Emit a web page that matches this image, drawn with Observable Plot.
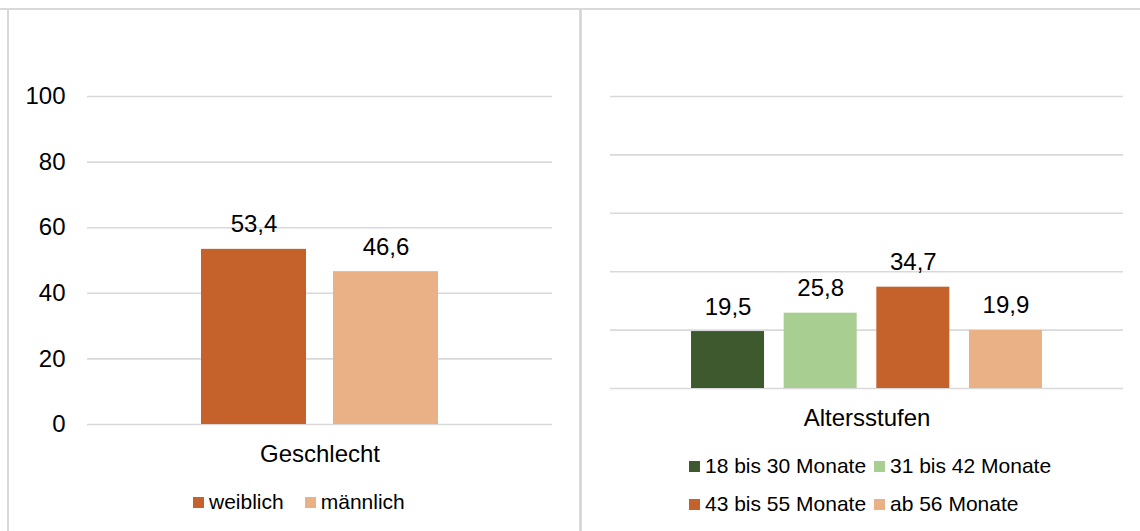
<!DOCTYPE html>
<html><head><meta charset="utf-8">
<script src="https://cdn.jsdelivr.net/npm/d3@7"></script>
<script src="https://cdn.jsdelivr.net/npm/@observablehq/plot@0.6"></script>
<style>
body{margin:0;background:#fff;font-family:"Liberation Sans",Arial,sans-serif;}
#root{position:relative;width:1140px;height:531px;overflow:hidden;background:#fff}
.border{position:absolute;background:#d9d9d9}
.panel{position:absolute;top:0}
.panel svg{overflow:visible}
.legend{position:absolute;font-size:21px;color:#000;line-height:24px}
.item{display:flex;align-items:center;white-space:nowrap}
.sw{width:11px;height:11px;margin-right:5px;flex:none}
</style></head><body><div id="root"></div>
<script>
// ---- data ----
const sexCategory = ["Geschlecht"];
const sexSeries = ["weiblich", "männlich"];
const sexValues = [53.4, 46.6];
const ageCategory = ["Altersstufen"];
const ageSeries = ["18 bis 30 Monate", "31 bis 42 Monate", "43 bis 55 Monate", "ab 56 Monate"];
const ageValues = [19.5, 25.8, 34.7, 19.9];
const yTicks = [0, 20, 40, 60, 80, 100];
const sexColors = ["#C5622B", "#EAB187"];
const ageColors = ["#3E592D", "#A9CE91", "#C5622B", "#EAB187"];

const fmt = v => v.toLocaleString("de-DE", {minimumFractionDigits: 1, maximumFractionDigits: 1});
const FONT = "'Liberation Sans', Arial, sans-serif";

function panel({category, series, values, colors, width, height, marginLeft, marginRight, marginTop, marginBottom, showY, padIn, padOut}) {
  const data = series.map((s, i) => ({cat: category[0], s, v: values[i]}));
  return Plot.plot({
    width, height, marginLeft, marginRight, marginTop, marginBottom,
    style: {fontFamily: FONT, fontSize: "24px", color: "#000", background: "transparent", overflow: "visible"},
    fx: {domain: category, padding: 0, label: null},
    x: {domain: series, paddingInner: padIn, paddingOuter: padOut, axis: null, round: false},
    y: {domain: [0, 100], label: null, axis: showY ? undefined : null},
    color: {domain: series, range: colors},
    marks: [
      Plot.ruleY(yTicks, {stroke: "#d9d9d9", strokeWidth: 1.6}),
      Plot.barY(data, {fx: "cat", x: "s", y: "v", fill: "s"}),
      Plot.text(data, {fx: "cat", x: "s", y: "v", text: d => fmt(d.v), dy: -17, lineAnchor: "bottom", fill: "#000", fontSize: 24}),
      showY ? Plot.axisY({ticks: yTicks, tickSize: 0, tickPadding: 22, label: null, fontSize: 24, tickFormat: d => d}) : null,
      Plot.axisFx({anchor: "bottom", tickSize: 0, tickPadding: 20, label: null, fontSize: 24})
    ]
  });
}

const root = document.getElementById("root");
function addDiv(cls, css) { const d = document.createElement("div"); d.className = cls; Object.assign(d.style, css); root.appendChild(d); return d; }

// frame lines
addDiv("border", {left: "0px", top: "8px", width: "1140px", height: "2px"});
addDiv("border", {left: "7px", top: "8px", width: "2px", height: "530px"});
addDiv("border", {left: "579px", top: "8px", width: "3px", height: "530px"});

const p1 = addDiv("panel", {left: "0px"});
p1.appendChild(panel({category: sexCategory, series: sexSeries, values: sexValues, colors: sexColors,
  width: 580, height: 470, marginLeft: 87, marginRight: 28, marginTop: 96, marginBottom: 46, showY: true,
  padIn: 0.2045, padOut: 0.8636}));

const p2 = addDiv("panel", {left: "580px"});
p2.appendChild(panel({category: ageCategory, series: ageSeries, values: ageValues, colors: ageColors,
  width: 560, height: 430, marginLeft: 30, marginRight: 17, marginTop: 96, marginBottom: 42, showY: false,
  padIn: 0.212, padOut: 0.8748}));

// legends
function legend(series, colors, css, grid) {
  const L = addDiv("legend", css);
  if (grid) { L.style.display = "grid"; L.style.gridTemplateColumns = "185px auto"; L.style.rowGap = "14px"; }
  else { L.style.display = "flex"; L.style.columnGap = "21px"; }
  series.forEach((s, i) => {
    const it = document.createElement("div"); it.className = "item";
    const sw = document.createElement("span"); sw.className = "sw"; sw.style.background = colors[i];
    const t = document.createElement("span"); t.textContent = s;
    it.appendChild(sw); it.appendChild(t); L.appendChild(it);
  });
}
legend(sexSeries, sexColors, {left: "193px", top: "490px"}, false);
legend(ageSeries, ageColors, {left: "689px", top: "454px"}, true);
</script></body></html>
